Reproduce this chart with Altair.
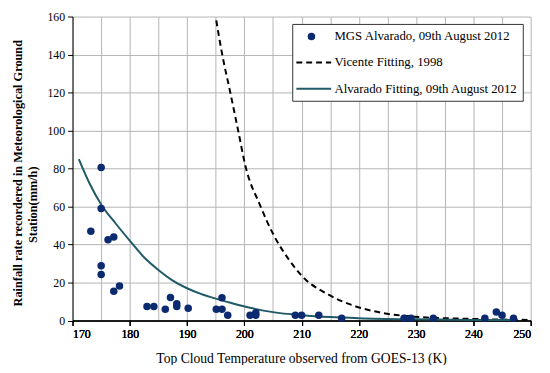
import altair as alt
import pandas as pd

# Observed points (MGS Alvarado, 09th August 2012)
obs_x = [173.2, 175.0, 175.0, 175.0, 175.0, 176.2, 177.2, 177.2, 178.2, 183.0, 184.2, 186.2,
         187.1, 188.2, 188.2, 190.2, 195.1, 196.1, 196.1, 197.1, 201.0, 202.0, 202.0, 208.9,
         210.0, 213.0, 217.0, 227.9, 229.1, 233.0, 242.0, 244.0, 245.0, 247.0]
obs_y = [47.0, 80.6, 59.0, 28.8, 24.2, 42.5, 44.0, 15.4, 18.1, 7.4, 7.4, 5.9,
         12.1, 8.8, 7.4, 6.4, 5.9, 12.0, 5.9, 2.8, 2.8, 4.1, 2.8, 2.8,
         2.8, 2.8, 1.2, 1.2, 1.2, 1.2, 1.2, 4.5, 2.8, 1.2]

# Vicente fitting, 1998 (dashed)
vic_x = [195.1, 196.1, 197.5, 198.9, 200.2, 202.7, 205.2, 207.8, 210.1, 214.7, 219.3, 223.9, 229.7, 240.0, 250.0]
vic_y = [158.0, 140.6, 120.7, 100.3, 81.2, 61.0, 44.5, 32.0, 23.3, 13.6, 7.6, 4.1, 2.0, 0.8, 0.3]

# Alvarado fitting, 09th August 2012 (solid teal)
alv_x = [171.1, 173.0, 175.0, 177.6, 180.2, 182.7, 185.0, 187.3, 189.9, 192.4, 195.0, 197.6, 200.4,
         205.0, 210.0, 215.0, 220.0, 230.0, 240.0, 247.0]
alv_y = [85.0, 72.0, 61.1, 50.8, 41.3, 32.6, 26.6, 21.4, 17.1, 14.0, 11.5, 9.3, 7.1,
         4.4, 2.8, 1.8, 1.2, 0.6, 0.3, 0.2]

legend_labels = ["MGS Alvarado, 09th August 2012", "Vicente Fitting, 1998", "Alvarado Fitting, 09th August 2012"]
x_title = "Top Cloud Temperature  observed from GOES-13  (K)"
y_title = ["Rainfall rate recordered in  Meteorological Ground", "Station(mm/h)"]

FONT = "Liberation Serif"
NAVY = "#0b2a6f"
TEAL = "#1f5a66"
GRID = "#b4b4b4"

W, H = 465, 308.5

obs = pd.DataFrame({"x": obs_x, "y": obs_y})
vic = pd.DataFrame({"x": vic_x, "y": vic_y})
alv = pd.DataFrame({"x": alv_x, "y": alv_y})

xscale = alt.Scale(domain=[170, 250], nice=False)
yscale = alt.Scale(domain=[0, 160], nice=False)

grid_x = alt.X("x:Q", scale=xscale,
               axis=alt.Axis(values=list(range(170, 251, 5)), grid=True, gridColor=GRID,
                             labels=False, ticks=False, domain=False, title=None, orient="bottom"))
main_x = alt.X("x:Q", scale=xscale,
               axis=alt.Axis(values=list(range(170, 251, 10)), grid=False, title=None,
                             orient="bottom", tickSize=5, labelPadding=3,
                             labelFont=FONT, labelFontSize=12, labelColor="#000",
                             tickColor="#000", domainColor="#000"))
main_y = alt.Y("y:Q", scale=yscale,
               axis=alt.Axis(values=list(range(0, 161, 20)), grid=True, gridColor=GRID, title=None,
                             tickSize=5, labelPadding=3,
                             labelFont=FONT, labelFontSize=12, labelColor="#000",
                             tickColor="#000", domainColor="#000"))

grid_layer = alt.Chart(obs).mark_point(opacity=0).encode(x=grid_x, y=main_y)

vic_line = alt.Chart(vic).mark_line(color="#000", strokeWidth=2, strokeDash=[6, 4], interpolate="monotone").encode(
    x=main_x, y=main_y)
alv_line = alt.Chart(alv).mark_line(color=TEAL, strokeWidth=2, interpolate="monotone").encode(
    x=main_x, y=main_y)
pts = alt.Chart(obs).mark_circle(color=NAVY, opacity=1, size=58).encode(x=main_x, y=main_y)

# legend box (drawn manually)
one = pd.DataFrame({"a": [0]})
box = alt.Chart(one).mark_rect(fill="white", stroke="#333", strokeWidth=1).encode(
    x=alt.value(223.5), x2=alt.value(457.5), y=alt.value(8), y2=alt.value(86))
leg_pt = alt.Chart(one).mark_circle(color=NAVY, opacity=1, size=58).encode(
    x=alt.value(242.5), y=alt.value(20.3))
leg_dash = alt.Chart(one).mark_rule(color="#000", strokeWidth=2, strokeDash=[6, 4]).encode(
    x=alt.value(227.2), x2=alt.value(262.5), y=alt.value(46.7))
leg_solid = alt.Chart(one).mark_rule(color=TEAL, strokeWidth=2).encode(
    x=alt.value(227.2), x2=alt.value(262.5), y=alt.value(73.3))
leg_text = alt.Chart(pd.DataFrame({"t": legend_labels, "yy": [20.3, 46.7, 73.3]})).mark_text(
    font=FONT, fontSize=13, align="left", baseline="middle", color="#000").encode(
    x=alt.value(265.8), y=alt.Y("yy:Q", scale=None), text="t:N")

xt = alt.Chart(one).mark_text(font=FONT, fontSize=13.8, fontWeight="normal", align="center",
                              baseline="alphabetic", color="#000", text=x_title).encode(
    x=alt.value(W / 2), y=alt.value(352))
yt1 = alt.Chart(one).mark_text(font=FONT, fontSize=12.5, fontWeight="bold", angle=270, align="center",
                               baseline="middle", color="#000", text=y_title[0]).encode(
    x=alt.value(-55.5), y=alt.value(159))
yt2 = alt.Chart(one).mark_text(font=FONT, fontSize=12.5, fontWeight="bold", angle=270, align="center",
                               baseline="middle", color="#000", text=y_title[1]).encode(
    x=alt.value(-40.5), y=alt.value(191))

chart = alt.layer(grid_layer, vic_line, alv_line, pts, box, leg_pt, leg_dash, leg_solid, leg_text,
                  xt, yt1, yt2
).resolve_axis(x="independent").properties(
    width=W, height=H,
    autosize=alt.AutoSizeParams(type="none"),
    padding={"left": 65.5, "top": 6, "right": 11.5, "bottom": 42.5},
).configure_view(stroke=None).configure_axis(
    labelFont=FONT, labelFontSize=12, labelColor="#000",
    tickColor="#000", domainColor="#000",
)

chart.save("out.html", embed_options={"renderer": "svg", "actions": False})
